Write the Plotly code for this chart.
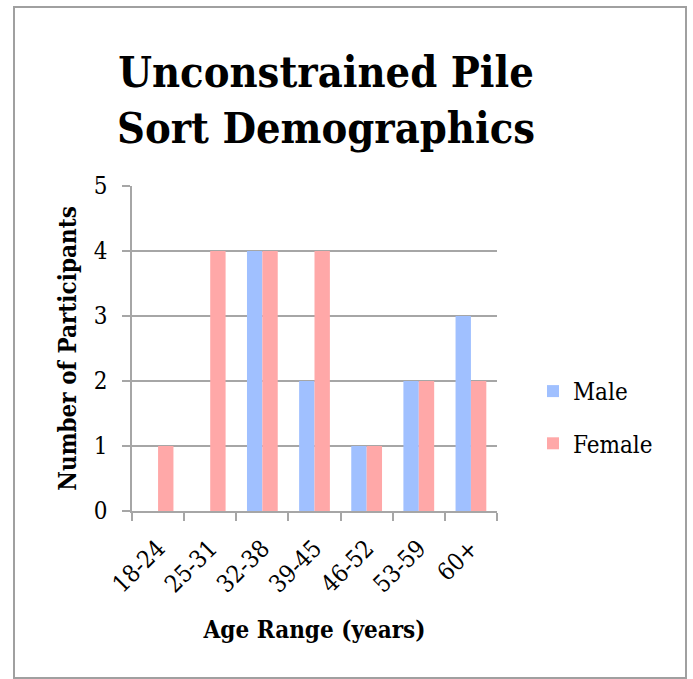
import plotly.graph_objects as go

age_ranges = ["18-24", "25-31", "32-38", "39-45", "46-52", "53-59", "60+"]
male = [0, 0, 4, 2, 1, 2, 3]
female = [1, 4, 4, 4, 1, 2, 2]
y_ticks = [0, 1, 2, 3, 4, 5]
series_names = ["Male", "Female"]
series_colors = ["#a0c0ff", "#ffa8a8"]

FONT = "DejaVu Serif Condensed, DejaVu Serif"
GRID = "#a6a6a6"

W, H = 693, 679
L, R, T, B = 132, 196, 186, 168
pw, ph = W - L - R, H - T - B


def px_x(p):
    return (p - L) / pw


def px_y(p):
    return (H - B - p) / ph


fig = go.Figure()
for name, vals, col in zip(series_names, [male, female], series_colors):
    fig.add_trace(go.Bar(x=age_ranges, y=vals, name=name, showlegend=False,
                         marker=dict(color=col, line=dict(width=0))))
# legend entries (square swatches)
for name, col in zip(series_names, series_colors):
    fig.add_trace(go.Scatter(x=[None], y=[None], mode="markers", name=name,
                             legendgroup=name,
                             marker=dict(symbol="square", size=15, color=col)))

fig.update_layout(
    width=W, height=H,
    margin=dict(l=L, r=R, t=T, b=B, pad=0),
    paper_bgcolor="white", plot_bgcolor="white",
    barmode="group", bargap=0.41, bargroupgap=0,
    font=dict(family=FONT, color="black", size=23),
    title=dict(
        text="<b>Unconstrained Pile<br>Sort Demographics</b>",
        x=326 / W, xanchor="center", xref="container",
        y=1 - 87 / H, yanchor="top", yref="container",
        font=dict(family=FONT, size=43, color="black"),
    ),
    legend=dict(
        x=px_x(533), y=px_y(369), xanchor="left", yanchor="top",
        font=dict(family=FONT, size=24),
        itemsizing="constant", tracegroupgap=18, itemwidth=30,
        traceorder="grouped",
        bgcolor="rgba(0,0,0,0)",
    ),
    xaxis=dict(
        type="category", tickangle=-45, tickson="boundaries",
        ticks="outside", ticklen=8, tickcolor=GRID, tickwidth=1.5,
        showline=True, linecolor=GRID, linewidth=1.5,
        showgrid=False, tickfont=dict(family=FONT, size=24),
        ticklabelstandoff=12,
        title=dict(text="<b>Age Range (years)</b>", font=dict(family=FONT, size=24), standoff=24),
    ),
    yaxis=dict(
        range=[0, 5], tickvals=y_ticks, ticks="outside", ticklen=8,
        tickcolor=GRID, tickwidth=1.5,
        showline=True, linecolor=GRID, linewidth=1.5,
        showgrid=True, gridcolor=GRID, gridwidth=1.5, zeroline=False,
        tickfont=dict(family=FONT, size=24),
        ticklabelstandoff=10,
        title=dict(text="<b>Number of Participants</b>", font=dict(family=FONT, size=24), standoff=10),
    ),
    shapes=[dict(
        type="rect", xref="paper", yref="paper",
        x0=px_x(14), x1=px_x(686), y0=px_y(678), y1=px_y(7),
        line=dict(color="#a0a0a0", width=2), fillcolor="rgba(0,0,0,0)", layer="below",
    )],
)

fig.write_html("out.html", config={"displayModeBar": False},
               post_script="document.body.style.margin='0';")
